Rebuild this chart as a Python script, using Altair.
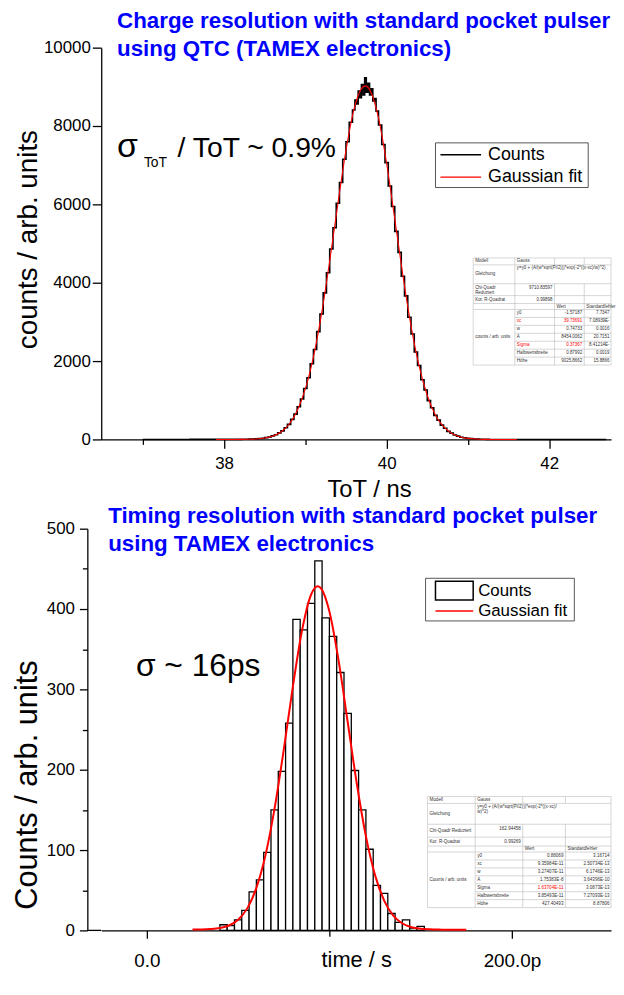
import altair as alt
import pandas as pd

FONT = "Liberation Sans"
BLUE = "#0000ff"

# ================= Top panel: ToT spectrum (ns) =================
tot_ns = [37.00, 38.16, 38.20, 38.24, 38.28, 38.32, 38.36, 38.40, 38.44, 38.48, 38.52, 38.56,
          38.60, 38.64, 38.68, 38.72, 38.76, 38.80, 38.84, 38.88, 38.92, 38.96, 39.00, 39.04,
          39.08, 39.12, 39.16, 39.20, 39.24, 39.28, 39.32, 39.36, 39.40, 39.44, 39.48, 39.52,
          39.56, 39.60, 39.62, 39.64, 39.66, 39.68, 39.70, 39.72, 39.74, 39.76, 39.78, 39.80,
          39.82, 39.84, 39.86, 39.88, 39.92, 39.96, 40.00, 40.04, 40.08, 40.12, 40.16, 40.20,
          40.24, 40.28, 40.32, 40.36, 40.40, 40.44, 40.48, 40.52, 40.56, 40.60, 40.64, 40.68,
          40.72, 40.76, 40.80, 40.84, 40.88, 40.92, 40.96, 41.00, 41.04, 41.08, 41.12, 41.16,
          41.20, 41.24, 41.28, 42.70]
tot_counts = [0, 1, 2, 3, 5, 7, 10, 14, 23, 30, 46, 61,
              90, 118, 168, 219, 300, 385, 512, 645, 833, 1031, 1298, 1575,
              1932, 2296, 2751, 3201, 3740, 4255, 4860, 5405, 6030, 6560, 7150, 7600,
              8095, 8410, 8660, 8560, 8890, 8720, 9060, 8790, 9230, 8860, 9090, 8790,
              8950, 8640, 8700, 8380, 8025, 7530, 7065, 6470, 5945, 5310, 4775, 4165,
              3665, 3120, 2690, 2230, 1885, 1522, 1262, 990, 808, 615, 492, 365,
              287, 206, 160, 111, 84, 57, 42, 27, 20, 12, 8, 5,
              3, 1, 0, 0]
tot_fit_ns = [37.9, 38.0, 38.1, 38.2, 38.3, 38.4, 38.5, 38.6, 38.7, 38.8, 38.9, 39.0, 39.1,
              39.2, 39.3, 39.4, 39.5, 39.6, 39.7, 39.74, 39.8, 39.9, 40.0, 40.1, 40.2, 40.3,
              40.4, 40.5, 40.6, 40.7, 40.8, 40.9, 41.0, 41.1, 41.2, 41.3, 41.4, 41.5, 41.6]
tot_fit_counts = [0, 0, 0, 0.3, 4, 13, 36, 86, 190, 387, 732, 1289, 2109,
                  3211, 4554, 6008, 7380, 8436, 8980, 9024, 8896, 8206, 7043, 5629, 4186, 2900,
                  1868, 1122, 624, 325, 155, 70, 27, 10, 2, 0, 0, 0, 0]

# ================= Bottom panel: timing histogram (ps) =================
time_bin_start_ps = [40, 44, 48, 52, 56, 60, 64, 68, 72, 76, 80, 84, 88, 92,
                     96, 100, 104, 108, 112, 116, 120, 124, 128, 132, 136, 140, 144, 148]
time_counts = [7, 6, 13, 25, 48, 63, 97, 150, 198, 258, 387, 374, 407, 460,
               389, 366, 321, 270, 199, 150, 101, 56, 46, 21, 10, 13, 3, 5]
BIN_WIDTH_PS = 4
time_fit_ps = [25, 30, 35, 40, 45, 50, 55, 60, 65, 70, 75, 80, 85, 90, 93.6, 95, 100,
               105, 110, 115, 120, 125, 130, 135, 140, 145, 150, 155, 160, 165, 170, 175]
time_fit_counts = [1.0, 1.1, 1.6, 2.9, 6.1, 13.2, 27.4, 52.9, 93.8, 152.1, 225.0, 303.6,
                   373.2, 418.1, 428.3, 426.7, 396.9, 336.3, 259.7, 182.8, 117.3, 68.8,
                   37.0, 18.4, 8.6, 4.0, 2.0, 1.3, 1.0, 0.9, 0.9, 0.9]

series_names = ["Counts", "Gaussian fit"]

top_title = ["Charge resolution with standard pocket pulser", "using QTC (TAMEX electronics)"]
bot_title = ["Timing resolution with standard pocket pulser", "using TAMEX electronics"]

# fit-result tables (text content)
top_table_top = [("Modell", "Gauss"), ("Gleichung", "y=y0 + (A/(w*sqrt(PI/2)))*exp(-2*((x-xc)/w)^2)"),
                 ("Chi-Quadr|Reduziert", "9710.83597"), ("Kor. R-Quadrat", "0.99898")]
top_params = ["y0", "xc", "w", "A", "Sigma", "Halbwertsbreite", "Höhe"]
top_values = ["-1.57187", "39.73691", "0.74733", "8454.0062", "0.37367", "0.87992", "9025.8662"]
top_errors = ["7.7347", "7.08939E-", "0.0016", "20.7151", "8.41214E-", "0.0019", "15.8866"]
top_red = ["xc", "Sigma"]

bot_table_top = [("Modell", "Gauss"), ("Gleichung", "y=y0 + (A/(w*sqrt(PI/2)))*exp(-2*((x-xc)/|w)^2)"),
                 ("Chi-Quadr Reduziert", "162.94458"), ("Kor. R-Quadrat", "0.99269")]
bot_params = ["y0", "xc", "w", "A", "Sigma", "Halbwertsbreite", "Höhe"]
bot_values = ["0.88069", "9.35984E-11", "3.27407E-11", "1.75383E-8", "1.63704E-11", "3.85493E-11", "427.40493"]
bot_errors = ["3.16714", "2.50734E-13", "6.1746E-13", "3.64396E-10", "3.0873E-13", "7.27093E-13", "8.87806"]

# ================= layout constants (pixels, page coordinates) =================
PLOT_W = 514
TOP_H, BOT_H = 395, 405
TOP_ORIGIN = (100, 45)
BOT_ORIGIN = (100, 530)     # bottom y axis is drawn 14 px further left (axis offset)
BOT_AXIS_OFFSET = 14
TITLE_FS = 22.5


def build_table(origin, cols, rows, head, params, values, errors, ylabel, red_names, red_values, fs):
    ox, oy = origin
    X = [c - ox for c in cols]
    Y = [r - oy for r in rows]
    texts = []

    def add(t, x, y, anchor, color="#333333"):
        texts.append({"t": t, "x": x, "y": y, "a": anchor, "c": color})

    mid = lambda i: (Y[i] + Y[i + 1]) / 2
    add(head[0][0], X[0] + 2, mid(0), "l")
    add(head[0][1], X[1] + 2, mid(0), "l")
    for k, ln in enumerate(head[1][1].split("|")):
        add(ln, X[1] + 2, Y[1] + 3.5 + 5 * k, "l")
    add(head[1][0], X[0] + 2, mid(1), "l")
    chi_lines = head[2][0].split("|")
    if len(chi_lines) == 2:
        add(chi_lines[0], X[0] + 2, Y[2] + 4.5, "l")
        add(chi_lines[1], X[0] + 2, Y[2] + 9, "l")
    else:
        add(chi_lines[0], X[0] + 2, mid(2), "l")
    add(head[2][1], X[2] - 2, Y[2] + 4.5, "r")
    add(head[3][0], X[0] + 2, mid(3), "l")
    add(head[3][1], X[2] - 2, mid(3), "r")
    add("Wert", X[2] + 2, mid(4), "l")
    add("Standardfehler", X[3] + 2, mid(4), "l")
    add(ylabel, X[0] + 2, (Y[5] + Y[-1]) / 2, "l")
    for i, (p, v, e) in enumerate(zip(params, values, errors)):
        yy = mid(5 + i)
        add(p, X[1] + 2, yy, "l", "#ff0000" if p in red_names else "#333333")
        add(v, X[3] - 2, yy, "r", "#ff0000" if p in red_values else "#333333")
        add(e, X[4] - 1.5, yy, "r")
    tdf = pd.DataFrame(texts)

    lines = []
    for j in range(0, 6):
        lines.append({"x1": X[0], "x2": X[4], "y1": Y[j], "y2": Y[j]})
    for j in range(6, len(Y) - 1):
        lines.append({"x1": X[1], "x2": X[4], "y1": Y[j], "y2": Y[j]})
    lines.append({"x1": X[0], "x2": X[4], "y1": Y[-1], "y2": Y[-1]})
    for xc in (X[0], X[1], X[4]):
        lines.append({"x1": xc, "x2": xc, "y1": Y[0], "y2": Y[-1]})
    for xc in (X[2], X[3]):
        lines.append({"x1": xc, "x2": xc, "y1": Y[0], "y2": Y[1]})
        lines.append({"x1": xc, "x2": xc, "y1": Y[2], "y2": Y[-1]})
    ldf = pd.DataFrame(lines)

    bg = alt.Chart(pd.DataFrame([{"x1": X[0], "x2": X[4], "y1": Y[0], "y2": Y[-1]}])).mark_rect(
        fill="white").encode(x=alt.X("x1:Q", scale=None), x2="x2:Q", y=alt.Y("y1:Q", scale=None), y2="y2:Q")
    rules = alt.Chart(ldf).mark_rule(color="#c4c4c4", strokeWidth=0.7).encode(
        x=alt.X("x1:Q", scale=None), x2="x2:Q", y=alt.Y("y1:Q", scale=None), y2="y2:Q")
    tl = alt.Chart(tdf[tdf.a == "l"]).mark_text(align="left", baseline="middle", font=FONT, fontSize=fs).encode(
        x=alt.X("x:Q", scale=None), y=alt.Y("y:Q", scale=None), text="t:N", color=alt.Color("c:N", scale=None))
    tr = alt.Chart(tdf[tdf.a == "r"]).mark_text(align="right", baseline="middle", font=FONT, fontSize=fs).encode(
        x=alt.X("x:Q", scale=None), y=alt.Y("y:Q", scale=None), text="t:N", color=alt.Color("c:N", scale=None))
    return [bg, rules, tl, tr]


def text_layer(txt, x, y, size, weight="normal", color="black", align="left"):
    return alt.Chart(pd.DataFrame({"t": [txt]})).mark_text(
        align=align, baseline="alphabetic", font=FONT, fontSize=size, fontWeight=weight, color=color
    ).encode(x=alt.value(x), y=alt.value(y), text="t:N")


def legend_layers(origin, box, items, font_size):
    """box: (x1, y1, x2, y2) page coords; items: list of (kind, label, color, sym_box, label_xy)"""
    ox, oy = origin
    out = [alt.Chart(pd.DataFrame({"t": ["legend"]})).mark_rect(fill="white", stroke="#555555", strokeWidth=1).encode(
        x=alt.value(box[0] - ox), x2=alt.value(box[2] - ox), y=alt.value(box[1] - oy), y2=alt.value(box[3] - oy))]
    for kind, label, color, sb, lxy in items:
        d = pd.DataFrame({"t": [label]})
        if kind == "rect":
            out.append(alt.Chart(d).mark_rect(fill="white", stroke=color, strokeWidth=1.5).encode(
                x=alt.value(sb[0] - ox), x2=alt.value(sb[2] - ox), y=alt.value(sb[1] - oy), y2=alt.value(sb[3] - oy)))
        else:
            out.append(alt.Chart(d).mark_rule(color=color, strokeWidth=sb[3]).encode(
                x=alt.value(sb[0] - ox), x2=alt.value(sb[2] - ox), y=alt.value(sb[1] - oy)))
        out.append(alt.Chart(d).mark_text(align="left", baseline="middle", font=FONT, fontSize=font_size,
                                          color="black").encode(
            x=alt.value(lxy[0] - ox), y=alt.value(lxy[1] - oy), text="t:N"))
    return out


# ================= Top chart =================
top_counts_df = pd.DataFrame({"x": tot_ns, "y": tot_counts, "series": "Counts"})
top_fit_df = pd.DataFrame({"x": tot_fit_ns, "y": tot_fit_counts, "series": "Gaussian fit"})
color_scale = alt.Scale(domain=series_names, range=["#000000", "#ff0000"])

tx = alt.X("x:Q", scale=alt.Scale(domain=[36.49, 42.76], nice=False, zero=False),
           axis=alt.Axis(values=[37, 38, 39, 40, 41, 42], format="d",
                         labelExpr="datum.value % 2 == 0 ? datum.label : ''",
                         tickSize={"condition": {"test": "datum.value % 2 != 0", "value": 5}, "value": 9},
                         labelFontSize=17, labelPadding=7, title="ToT / ns", titleFontSize=24,
                         titleBaseline="alphabetic", titleY=58, titleX=270, titleAlign="center"))
ty = alt.Y("y:Q", scale=alt.Scale(domain=[0, 10000], nice=False),
           axis=alt.Axis(values=list(range(0, 10001, 1000)), format="d",
                         labelExpr="datum.value % 2000 == 0 ? datum.label : ''",
                         tickSize={"condition": {"test": "datum.value % 2000 != 0", "value": 5}, "value": 9},
                         labelFontSize=17, labelPadding=2, title="counts / arb. units", titleFontSize=28,
                         titleBaseline="alphabetic", titleX=-65, titleY=193, titleAngle=270,
                         titleAlign="center"))

top_counts = alt.Chart(top_counts_df).mark_line(interpolate="step", strokeWidth=1.6).encode(
    x=tx, y=ty, color=alt.Color("series:N", scale=color_scale, legend=None))
top_fit = alt.Chart(top_fit_df).mark_line(interpolate="monotone", strokeWidth=1.1).encode(
    x="x:Q", y="y:Q", color=alt.Color("series:N", scale=color_scale, legend=None))

ox, oy = TOP_ORIGIN
top_texts = [
    text_layer(top_title[0], 116 - ox, 25 - oy, TITLE_FS, "bold", BLUE),
    text_layer(top_title[1], 116 - ox, 53 - oy, TITLE_FS, "bold", BLUE),
    text_layer("σ", 116 - ox, 155 - oy, 34),
    text_layer("ToT", 143 - ox, 165 - oy, 14),
    text_layer("/ ToT ~ 0.9%", 177 - ox, 155 - oy, 28.5),
]
top_legend = legend_layers(TOP_ORIGIN, (437, 141, 591, 186),
                           [("line", series_names[0], "#000000", (442, 153, 483, 1.5), (490, 153)),
                            ("line", series_names[1], "#ff0000", (442, 175.5, 483, 1.1), (490, 175.5))], 18)

top_table = build_table(TOP_ORIGIN, [475, 517, 557, 587, 614],
                        [257, 264, 283, 295, 303, 309, 317, 325, 333, 341, 349, 357, 365],
                        top_table_top, top_params, top_values, top_errors, "counts / arb. units",
                        top_red, top_red, 4.5)

top_chart = alt.layer(top_counts, top_fit, *top_texts, *top_legend, *top_table).properties(
    width=PLOT_W, height=TOP_H)

# ================= Bottom chart =================
bars_df = pd.DataFrame({"x": time_bin_start_ps,
                        "x2": [b + BIN_WIDTH_PS for b in time_bin_start_ps],
                        "y": time_counts, "base": 0, "series": "Counts"})
bfit_df = pd.DataFrame({"x": time_fit_ps, "y": time_fit_counts, "series": "Gaussian fit"})

bx = alt.X("x:Q", scale=alt.Scale(domain=[-25.0, 254.3], nice=False, zero=False),
           axis=alt.Axis(values=[0, 100, 200],
                         labelExpr="datum.value == 0 ? '0.0' : (datum.value == 200 ? '200.0p' : '')",
                         tickSize={"condition": {"test": "datum.value == 100", "value": 6}, "value": 8},
                         labelFontSize=19, labelPadding=13, title="time / s", titleFontSize=22,
                         titleBaseline="alphabetic", titleY=36))
by = alt.Y("y:Q", scale=alt.Scale(domain=[0, 500], nice=False),
           axis=alt.Axis(values=list(range(0, 501, 50)), format="d", offset=BOT_AXIS_OFFSET,
                         labelExpr="datum.value % 100 == 0 ? datum.label : ''",
                         tickSize={"condition": {"test": "datum.value % 100 != 0", "value": 5}, "value": 8},
                         labelFontSize=17, labelPadding=5, title="Counts / arb. units", titleFontSize=31,
                         titleBaseline="alphabetic", titleX=-51, titleY=258, titleAngle=270,
                         titleAlign="center"))

bars = alt.Chart(bars_df).mark_rect(fill="white", strokeWidth=1.3).encode(
    x=bx, x2="x2:Q", y=by, y2="base:Q", stroke=alt.Stroke("series:N", scale=color_scale, legend=None))
bfit = alt.Chart(bfit_df).mark_line(interpolate="monotone", strokeWidth=2).encode(
    x="x:Q", y="y:Q", stroke=alt.Stroke("series:N", scale=color_scale, legend=None))
# continuation of the x axis line up to the (offset) y axis
axis_ext = alt.Chart(pd.DataFrame({"t": ["axis"]})).mark_rule(color="black", strokeWidth=1.3).encode(
    x=alt.value(-BOT_AXIS_OFFSET), x2=alt.value(0), y=alt.value(BOT_H))

bx0, by0 = BOT_ORIGIN
bot_texts = [
    text_layer(bot_title[0], 107 - bx0, 524 - by0, TITLE_FS, "bold", BLUE),
    text_layer(bot_title[1], 107 - bx0, 552 - by0, TITLE_FS, "bold", BLUE),
    text_layer("σ ~ 16ps", 135 - bx0, 679 - by0, 32),
]
bot_legend = legend_layers(BOT_ORIGIN, (427, 580, 577, 623),
                           [("rect", series_names[0], "#000000", (437, 583, 475, 602), (480, 592.5)),
                            ("line", series_names[1], "#ff0000", (437, 613, 475, 1.6), (480, 613))], 17)

bot_table = build_table(BOT_ORIGIN, [429, 477, 525, 568, 614],
                        [800, 807, 828, 841, 850, 856, 864, 872, 880, 888, 896, 904, 912],
                        bot_table_top, bot_params, bot_values, bot_errors, "Counts / arb. units",
                        [], ["Sigma"], 4.6)

bot_chart = alt.layer(bars, bfit, axis_ext, *bot_texts, *bot_legend, *bot_table).properties(
    width=PLOT_W, height=BOT_H)

chart = alt.vconcat(top_chart, bot_chart, spacing=BOT_ORIGIN[1] - (TOP_ORIGIN[1] + TOP_H),
                    bounds="flush").properties(
    padding={"left": 4, "top": -2, "right": 0, "bottom": 1}
).configure_view(stroke=None).configure_axis(
    grid=False, domainColor="black", tickColor="black", labelColor="black", titleColor="black",
    labelFont=FONT, titleFont=FONT, titleFontWeight="normal", domainWidth=1.3, tickWidth=1.3
)

chart.save("out.html", embed_options={"renderer": "svg", "actions": False})
